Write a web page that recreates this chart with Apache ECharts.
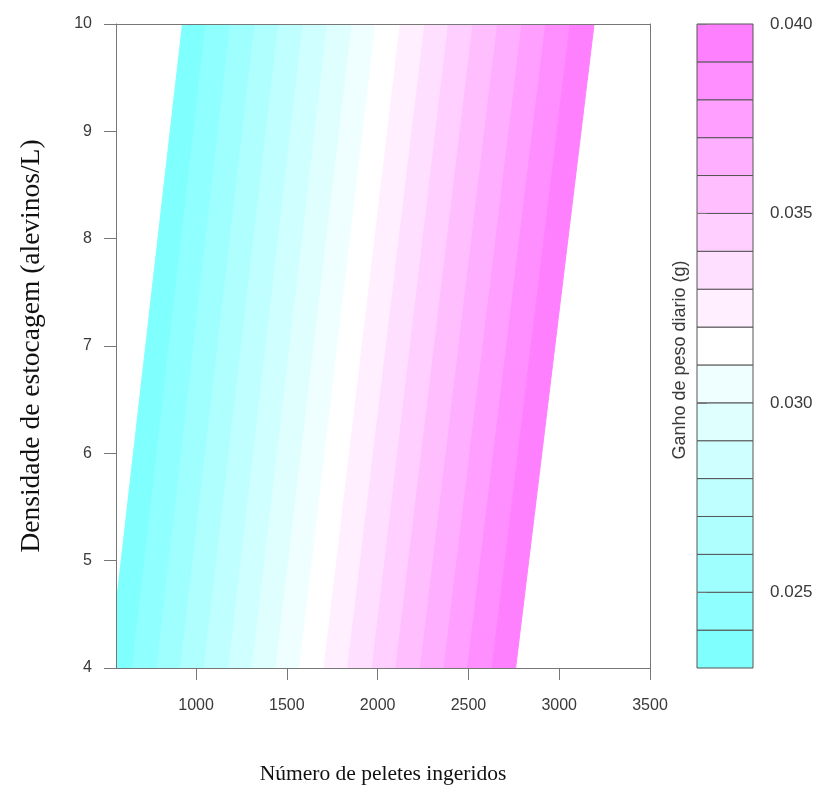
<!DOCTYPE html>
<html><head><meta charset="utf-8">
<script src="https://cdn.jsdelivr.net/npm/echarts@6/dist/echarts.min.js"></script>
<style>html,body{margin:0;padding:0;background:#fff}#c{width:829px;height:796px}</style>
</head><body><div id="c"></div>
<script>
// Contour levels of "Ganho de peso diario (g)"
const levels = [0.023,0.024,0.025,0.026,0.027,0.028,0.029,0.030,0.031,0.032,0.033,0.034,0.035,0.036,0.037,0.038,0.039,0.040];
// x (pellets) where each contour level crosses the top (density 10) and bottom (density 4) of the plot
const contourXAtY10 = [925,1055,1190,1325,1455,1590,1725,1860,1990,2125,2260,2390,2525,2660,2795,2925,3060,3192];
const contourXAtY4  = [520,650,785,915,1045,1180,1310,1440,1570,1705,1835,1970,2100,2235,2365,2495,2630,2760];
const xRange = [559, 3500];
const yRange = [4, 10];
const xTicks = [1000,1500,2000,2500,3000,3500];
const yTicks = [4,5,6,7,8,9,10];
const keyTicks = [0.025,0.030,0.035,0.040];

// R cm.colors(n) palette
function hsvToHex(h,s,v){
  const i=Math.floor(h*6), f=h*6-i, p=v*(1-s), q=v*(1-f*s), t=v*(1-(1-f)*s);
  let r,g,b;
  switch(i%6){case 0:r=v;g=t;b=p;break;case 1:r=q;g=v;b=p;break;case 2:r=p;g=v;b=t;break;
    case 3:r=p;g=q;b=v;break;case 4:r=t;g=p;b=v;break;default:r=v;g=p;b=q;}
  const c=x=>Math.round(x*255).toString(16).padStart(2,'0');
  return '#'+c(r)+c(g)+c(b);
}
function cmColors(n){
  const even=n%2===0, k=Math.floor(n/2), l1=k+1-(even?1:0), l2=n-k+(even?1:0);
  const out=[];
  const end1=even?0.5/k:0;
  for(let j=0;j<l1;j++){const s=l1>1?0.5+(end1-0.5)*j/(l1-1):0.5;out.push(hsvToHex(0.5,s,1));}
  for(let j=1;j<l2;j++){const s=0.5*j/(l2-1);out.push(hsvToHex(10/12,s,1));}
  return out;
}
const bandColors = cmColors(levels.length-1);
const bandIdx = levels.slice(0,-1).map((l,i)=>i);

const tickFont = {fontFamily:'Liberation Sans, Arial, sans-serif', fontSize:16, color:'#3a3a3a'};
const axisGray = '#777';

const chart = echarts.init(document.getElementById('c'), null, {renderer:'canvas'});
chart.setOption({
  backgroundColor:'#fff',
  animation:false,
  grid:[
    {left:116, top:24, width:534, height:644},
    {left:697, top:24, width:56, height:644}
  ],
  xAxis:[
    {type:'value', gridIndex:0, min:xRange[0], max:xRange[1], position:'bottom', z:10,
     axisLine:{show:true, onZero:false, lineStyle:{color:axisGray, width:1}},
     axisTick:{show:true, inside:false, length:12, customValues:xTicks, lineStyle:{color:axisGray}},
     axisLabel:Object.assign({show:true, margin:30, customValues:xTicks, formatter:v=>String(v)}, tickFont),
     splitLine:{show:false},
     name:'Número de peletes ingeridos', nameLocation:'middle', nameGap:95,
     nameTextStyle:{fontFamily:'Liberation Serif, Times New Roman, serif', fontSize:21.5, color:'#111'}},
    {type:'value', gridIndex:0, min:xRange[0], max:xRange[1], position:'top', z:10,
     axisLine:{show:true, onZero:false, lineStyle:{color:axisGray, width:1}},
     axisTick:{show:false}, axisLabel:{show:false}, splitLine:{show:false}},
    {type:'value', gridIndex:1, min:0, max:1, show:false}
  ],
  yAxis:[
    {type:'value', gridIndex:0, min:yRange[0], max:yRange[1], position:'left', z:10,
     axisLine:{show:true, onZero:false, lineStyle:{color:axisGray, width:1}},
     axisTick:{show:true, inside:false, length:12, customValues:yTicks, lineStyle:{color:axisGray}},
     axisLabel:Object.assign({show:true, margin:24, customValues:yTicks, formatter:v=>String(v)}, tickFont),
     splitLine:{show:false},
     name:'Densidade de estocagem (alevinos/L)', nameLocation:'middle', nameGap:70,
     nameTextStyle:{fontFamily:'Liberation Serif, Times New Roman, serif', fontSize:27.5, color:'#111'}},
    {type:'value', gridIndex:0, min:yRange[0], max:yRange[1], position:'right', z:10,
     axisLine:{show:true, onZero:false, lineStyle:{color:axisGray, width:1}},
     axisTick:{show:false}, axisLabel:{show:false}, splitLine:{show:false}},
    {type:'value', gridIndex:1, min:levels[0], max:levels[levels.length-1], position:'right', z:10,
     axisLine:{show:false},
     axisTick:{show:true, inside:false, length:10, customValues:keyTicks, lineStyle:{color:axisGray}},
     axisLabel:Object.assign({show:true, margin:17, customValues:keyTicks, formatter:v=>Number(v).toFixed(3)}, tickFont, {fontSize:17}),
     splitLine:{show:false}}
  ],
  graphic:[
    {type:'text', x:680, y:360, rotation:Math.PI/2, z:20,
     style:{text:'Ganho de peso diario (g)', align:'center', verticalAlign:'middle',
            font:'18px "Liberation Sans", Arial, sans-serif', fill:'#3a3a3a'}}
  ],
  series:[
    {type:'custom', xAxisIndex:0, yAxisIndex:0, clip:true, z:2,
     data:bandIdx.map(i=>[i]),
     encode:{x:-1, y:-1},
     renderItem:function(params, api){
       const i = api.value(0);
       const pts = [
         api.coord([contourXAtY4[i], yRange[0]]),
         api.coord([contourXAtY4[i+1], yRange[0]]),
         api.coord([contourXAtY10[i+1], yRange[1]]),
         api.coord([contourXAtY10[i], yRange[1]])
       ];
       return {type:'polygon', shape:{points:pts},
               style:{fill:bandColors[i], stroke:bandColors[i], lineWidth:1}};
     }},
    {type:'custom', xAxisIndex:2, yAxisIndex:2, z:3,
     data:bandIdx.map(i=>[i]),
     encode:{x:-1, y:-1},
     renderItem:function(params, api){
       const i = api.value(0);
       const p0 = api.coord([0, levels[i+1]]);
       const p1 = api.coord([1, levels[i]]);
       return {type:'rect', shape:{x:p0[0], y:p0[1], width:p1[0]-p0[0], height:p1[1]-p0[1]},
               style:{fill:bandColors[i], stroke:'#555', lineWidth:1}};
     }}
  ]
});
</script>
</body></html>
